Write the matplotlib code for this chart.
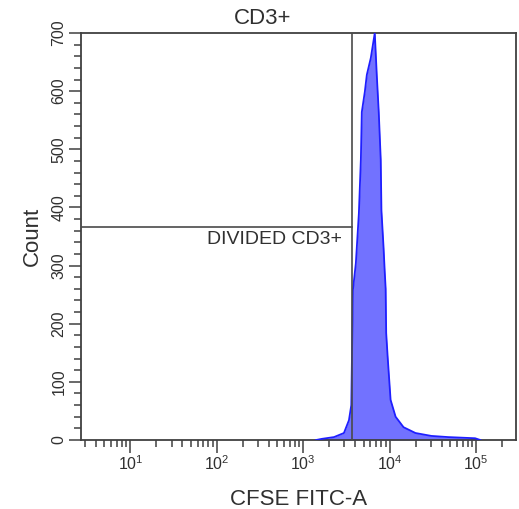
import matplotlib
matplotlib.use("Agg")
import matplotlib.pyplot as plt
from matplotlib.ticker import LogLocator, MultipleLocator, NullFormatter, LogFormatterMathtext

plt.rcParams['font.family'] = ['Liberation Sans', 'DejaVu Sans']
plt.rcParams['mathtext.fontset'] = 'custom'
plt.rcParams['mathtext.rm'] = 'Liberation Sans'
plt.rcParams['mathtext.it'] = 'Liberation Sans'

# Histogram envelope (CFSE FITC-A intensity, count)
cfse = [1410, 1652, 2270, 2958, 3381, 3600, 3758, 4064, 4406, 4645, 4764, 5164, 5445,
        6053, 6730, 7096, 7482, 7889, 8035, 8511, 8770, 8995, 9120, 9484, 10257, 11722,
        14488, 19907, 30409, 47643, 97499, 112000]
counts = [0, 2, 5, 12, 34, 60, 258, 304, 390, 482, 564, 599, 628,
          657, 700, 628, 564, 482, 395, 330, 290, 260, 184, 143, 69, 40,
          22, 12, 7, 5, 3, 0]

gate_x = 3700          # vertical gate position
gate_y = 366           # horizontal gate (count)
x_limits = (2.68, 2.9e5)
y_limits = (0, 700)
x_major = [1e1, 1e2, 1e3, 1e4, 1e5]
y_major = [0, 100, 200, 300, 400, 500, 600, 700]
title_text = "CD3+"
gate_label = "DIVIDED CD3+"
x_label = "CFSE FITC-A"
y_label = "Count"

W, H = 519, 509
fig = plt.figure(figsize=(W / 100, H / 100), dpi=100)
ax = fig.add_axes([81 / W, 1 - 440 / H, (516 - 81) / W, (440 - 33) / H])

ax.fill_between(cfse, counts, color='#7272ff', lw=0, zorder=2)
ax.plot(cfse, counts, color='#1f1fff', lw=1.3, zorder=3)

gate_color = '#4a4a4a'
ax.axvline(gate_x, color=gate_color, lw=1.2, zorder=4)
ax.plot([x_limits[0], gate_x], [gate_y, gate_y], color=gate_color, lw=1.2, zorder=4)

ax.set_xscale('log')
ax.set_xlim(*x_limits)
ax.set_ylim(*y_limits)

ax.set_xticks(x_major)
ax.xaxis.set_major_formatter(LogFormatterMathtext())
ax.xaxis.set_minor_locator(LogLocator(base=10, subs=range(2, 10), numticks=50))
ax.xaxis.set_minor_formatter(NullFormatter())
ax.set_yticks(y_major)
ax.yaxis.set_minor_locator(MultipleLocator(20))

tick_col = '#404040'
ax.tick_params(axis='both', which='major', direction='out', length=9, width=1.1,
               color=tick_col, labelsize=11.5, labelcolor='#303030', pad=1.5)
ax.tick_params(axis='both', which='minor', direction='out', length=5, width=1.1,
               color=tick_col)
for lab in ax.get_yticklabels():
    lab.set_rotation(90)
    lab.set_va('center')
for s in ax.spines.values():
    s.set_color(tick_col)
    s.set_linewidth(1.3)

ax.set_xlabel(x_label, fontsize=16, color='#303030', labelpad=11)
ax.set_ylabel(y_label, fontsize=16, color='#303030', labelpad=6)

fig.text(263 / W, 1 - 18 / H, title_text, fontsize=16, color='#303030', ha='center', va='center')
ax.text(2786, 344, gate_label, fontsize=14, color='#303030', ha='right', va='center')

fig.savefig('out.png', dpi=100, facecolor='white')
